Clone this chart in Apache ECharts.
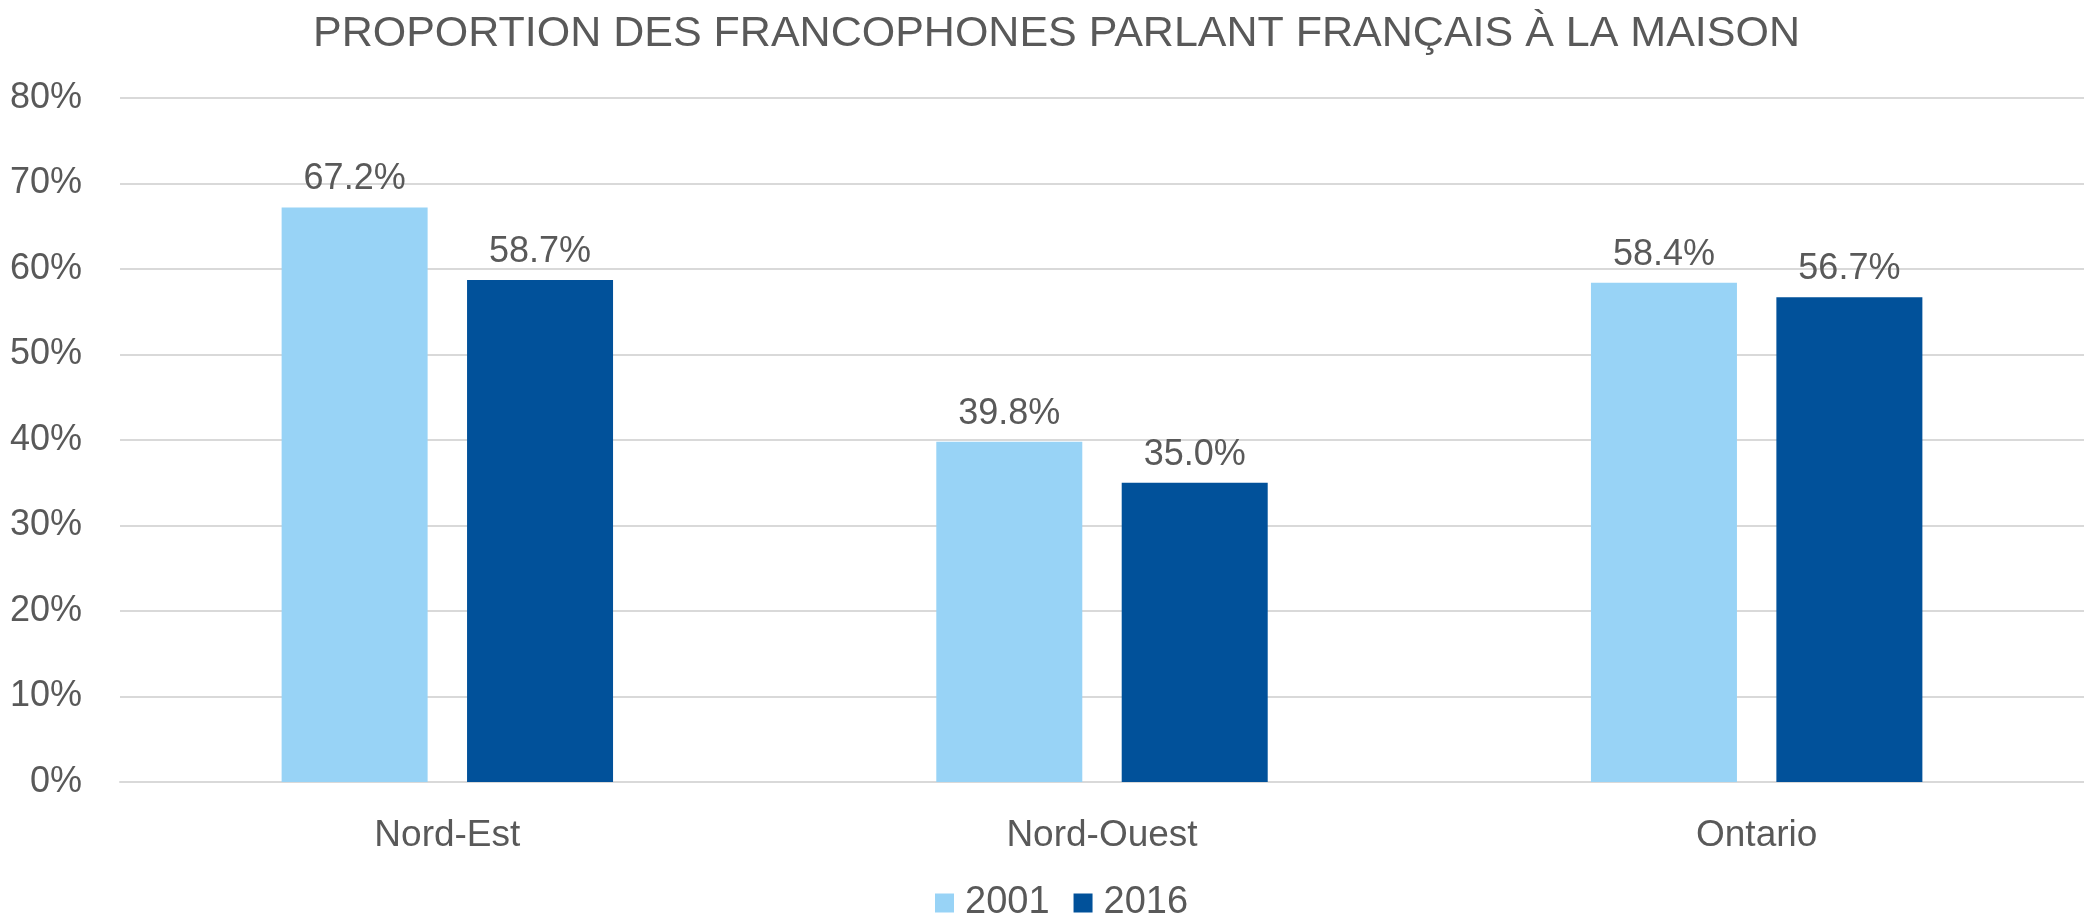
<!DOCTYPE html>
<html>
<head>
<meta charset="utf-8">
<script src="https://cdn.jsdelivr.net/npm/echarts@6/dist/echarts.min.js"></script>
<style>
  html, body { margin: 0; padding: 0; background: #fff; }
  #chart { width: 2084px; height: 915px; }
</style>
</head>
<body>
<div id="chart"></div>
<script>
// données
const titre = 'PROPORTION DES FRANCOPHONES PARLANT FRANÇAIS À LA MAISON'
const regions = ['Nord-Est', 'Nord-Ouest', 'Ontario']
const annees = ['2001', '2016']
const val2001 = [67.2, 39.8, 58.4]
const val2016 = [58.7, 35.0, 56.7]
const yTicks = [0, 10, 20, 30, 40, 50, 60, 70, 80]

const police = '"Liberation Sans", Arial, sans-serif'
const gris = '#595959'

const chart = echarts.init(document.getElementById('chart'))

function serie(nom, data, couleur) {
  return {
    name: nom,
    type: 'bar',
    data: data,
    barWidth: 146,
    barGap: '27%',
    itemStyle: { color: couleur },
    label: {
      show: true,
      position: 'top',
      distance: 10,
      color: gris,
      fontFamily: police,
      fontSize: 36,
      formatter: p => p.value.toFixed(1) + '%'
    }
  }
}

chart.setOption({
  animation: false,
  title: {
    text: titre,
    left: 308,
    top: 8,
    textStyle: { color: gris, fontFamily: police, fontSize: 43, fontWeight: 'normal' }
  },
  legend: {
    data: annees,
    left: 930,
    top: 879,
    icon: 'rect',
    itemWidth: 19,
    itemHeight: 19,
    itemGap: 24,
    textStyle: { color: gris, fontFamily: police, fontSize: 38, padding: [0, 0, 0, 6] }
  },
  grid: {
    left: 120,
    right: 0,
    top: 98,
    bottom: 133
  },
  xAxis: {
    type: 'category',
    data: regions,
    axisLine: { lineStyle: { color: '#d9d9d9', width: 2 } },
    axisTick: { show: false },
    axisLabel: { color: gris, fontFamily: police, fontSize: 37, margin: 35 }
  },
  yAxis: {
    type: 'value',
    min: yTicks[0],
    max: yTicks[yTicks.length - 1],
    interval: 10,
    axisLine: { show: false },
    axisTick: { show: false },
    splitLine: { lineStyle: { color: '#d9d9d9', width: 2 } },
    axisLabel: { color: gris, fontFamily: police, fontSize: 36, margin: 38, formatter: '{value}%' }
  },
  series: [
    serie(annees[0], val2001, '#98d3f6'),
    serie(annees[1], val2016, '#01519a')
  ]
})
</script>
</body>
</html>
